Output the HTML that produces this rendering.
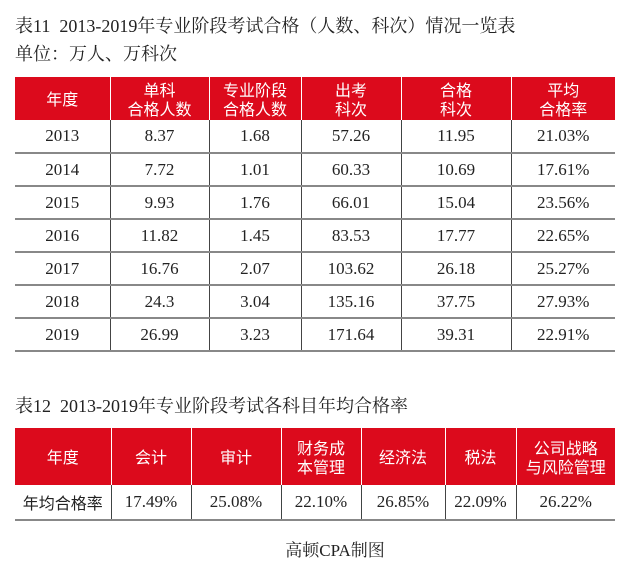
<!DOCTYPE html>
<html><head><meta charset="utf-8"><style>
body{margin:0;width:640px;height:572px;background:#fff;position:relative;overflow:hidden;font-family:"Liberation Serif","Noto Serif CJK SC",serif;color:#222}
.t{position:absolute;left:15px;font-size:18px;white-space:nowrap}
table{position:absolute;border-collapse:collapse;table-layout:fixed}
th{background:#dc0a1c;color:#fff;font-weight:normal;font-family:"Noto Sans CJK SC",sans-serif;font-size:16px;line-height:19px;border-left:1px solid #fff;padding:0}
th:first-child{border-left:none}
td{text-align:center;font-size:17px;padding:0;border-left:1px solid #444;border-bottom:2px solid #888}
td:first-child{border-left:none}
</style></head><body>
<div class="t" style="top:12px">表11&nbsp; 2013-2019年专业阶段考试合格（人数、科次）情况一览表</div>
<div class="t" style="top:40px">单位：万人、万科次</div>
<table style="left:15px;top:77px;width:600px">
<colgroup><col style="width:95px"><col style="width:99px"><col style="width:92px"><col style="width:100px"><col style="width:110px"><col style="width:104px"></colgroup>
<tr style="height:43px"><th>年度</th><th>单科<br>合格人数</th><th>专业阶段<br>合格人数</th><th>出考<br>科次</th><th>合格<br>科次</th><th>平均<br>合格率</th></tr>
<tr style="height:33px"><td>2013</td><td>8.37</td><td>1.68</td><td>57.26</td><td>11.95</td><td>21.03%</td></tr>
<tr style="height:33px"><td>2014</td><td>7.72</td><td>1.01</td><td>60.33</td><td>10.69</td><td>17.61%</td></tr>
<tr style="height:33px"><td>2015</td><td>9.93</td><td>1.76</td><td>66.01</td><td>15.04</td><td>23.56%</td></tr>
<tr style="height:33px"><td>2016</td><td>11.82</td><td>1.45</td><td>83.53</td><td>17.77</td><td>22.65%</td></tr>
<tr style="height:33px"><td>2017</td><td>16.76</td><td>2.07</td><td>103.62</td><td>26.18</td><td>25.27%</td></tr>
<tr style="height:33px"><td>2018</td><td>24.3</td><td>3.04</td><td>135.16</td><td>37.75</td><td>27.93%</td></tr>
<tr style="height:33px"><td>2019</td><td>26.99</td><td>3.23</td><td>171.64</td><td>39.31</td><td>22.91%</td></tr>
</table>
<div class="t" style="top:392px">表12&nbsp; 2013-2019年专业阶段考试各科目年均合格率</div>
<table style="left:15px;top:428px;width:600px">
<colgroup><col style="width:96px"><col style="width:80px"><col style="width:90px"><col style="width:80px"><col style="width:84px"><col style="width:71px"><col style="width:99px"></colgroup>
<tr style="height:57px"><th>年度</th><th>会计</th><th>审计</th><th>财务成<br>本管理</th><th>经济法</th><th>税法</th><th>公司战略<br>与风险管理</th></tr>
<tr style="height:35px"><td style="font-family:'Noto Sans CJK SC',sans-serif;font-size:16px">年均合格率</td><td>17.49%</td><td>25.08%</td><td>22.10%</td><td>26.85%</td><td>22.09%</td><td>26.22%</td></tr>
</table>
<div style="position:absolute;left:0;width:640px;top:536px;text-align:center;font-size:17px;padding-left:30px;box-sizing:border-box">高顿CPA制图</div>
</body></html>
